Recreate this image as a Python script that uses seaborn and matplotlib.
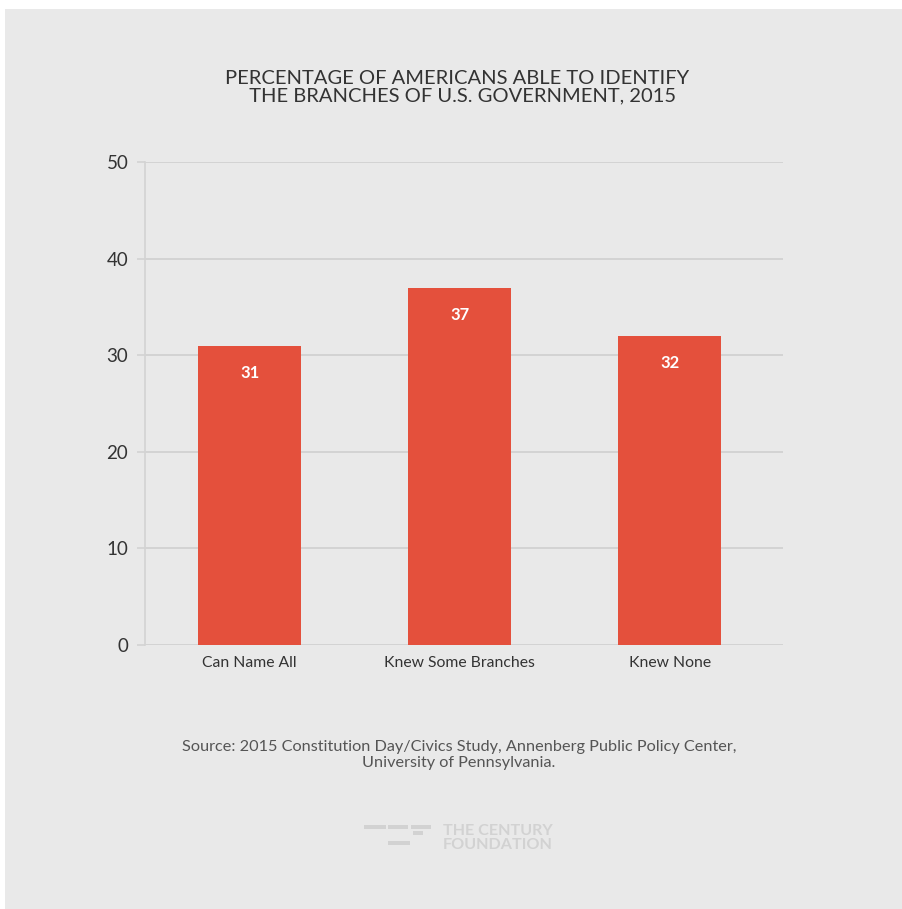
import matplotlib
matplotlib.use("Agg")
import matplotlib.pyplot as plt
import seaborn as sns
import pandas as pd
from matplotlib.patches import Rectangle

categories = ["Can Name All", "Knew Some Branches", "Knew None"]
values = [31, 37, 32]
yticks = [0, 10, 20, 30, 40, 50]
title = "PERCENTAGE OF AMERICANS ABLE TO IDENTIFY\n  THE BRANCHES OF U.S. GOVERNMENT, 2015"
source = "Source: 2015 Constitution Day/Civics Study, Annenberg Public Policy Center,\nUniversity of Pennsylvania."

BG = "#e9e9e9"
BAR = "#e4503c"
GRID = "#d3d3d3"
TXT = "#333333"

sns.set_theme(style="white")
plt.rcParams["font.family"] = ["Lato", "DejaVu Sans"]

fig = plt.figure(figsize=(9.02, 9.09), dpi=100)
fig.patch.set_facecolor("white")
fig.patches.append(Rectangle((5 / 902, 0), 1, 1 - 9 / 909, transform=fig.transFigure,
                             facecolor=BG, edgecolor="none", zorder=-10))

ax = fig.add_axes([145 / 902, 1 - 645 / 909, (783 - 145) / 902, (645 - 162) / 909])
ax.set_facecolor(BG)
ax.patch.set_alpha(0)

df = pd.DataFrame({"cat": categories, "val": values})
sns.barplot(data=df, x="cat", y="val", color=BAR, saturation=1, width=0.49, ax=ax,
            zorder=3, edgecolor=BAR, linewidth=0)

ax.set_ylim(0, 50)
ax.set_xlim(-0.498, 2.54)
ax.set_yticks(yticks)
ax.set_yticklabels([str(t) for t in yticks], fontsize=13.5, color=TXT)
ax.set_xlabel("")
ax.set_ylabel("")
ax.tick_params(axis="x", length=0, labelsize=11.3, labelcolor=TXT, pad=8)
ax.tick_params(axis="y", length=6, width=1.2, color=GRID, pad=6, left=True)
ax.yaxis.grid(True, color=GRID, linewidth=1.4, zorder=0)
ax.set_axisbelow(True)
for s in ["top", "right", "bottom"]:
    ax.spines[s].set_visible(False)
ax.spines["left"].set_color(GRID)
ax.spines["left"].set_linewidth(1.2)

for p, v in zip(ax.patches, values):
    ax.annotate(str(v), (p.get_x() + p.get_width() / 2, p.get_height()),
                xytext=(0, -19.5), textcoords="offset points",
                ha="center", va="center", color="white", fontsize=12, fontweight="bold", zorder=5)

fig.text(0.507, 1 - 87 / 909, title, ha="center", va="center", fontsize=14.5, color=TXT, linespacing=1.05)
fig.text(0.509, 1 - 755 / 909, source, ha="center", va="center", fontsize=11.7, color="#555555", linespacing=1.1)

# logo
LOGO = "#d2d2d2"
fig.text(443 / 902, 1 - 838 / 909, "THE CENTURY\nFOUNDATION", ha="left", va="center",
         fontsize=11.6, fontweight="bold", color=LOGO, linespacing=0.95)
for (x0, y0, w) in [(364, 825, 22), (388, 825, 20), (411, 825, 20), (413, 831, 10), (388, 841, 22)]:
    fig.patches.append(Rectangle((x0 / 902, 1 - (y0 + 4) / 909), w / 902, 4 / 909,
                                 transform=fig.transFigure, facecolor=LOGO, edgecolor="none"))

fig.savefig("out.png", dpi=100, facecolor=fig.get_facecolor())
